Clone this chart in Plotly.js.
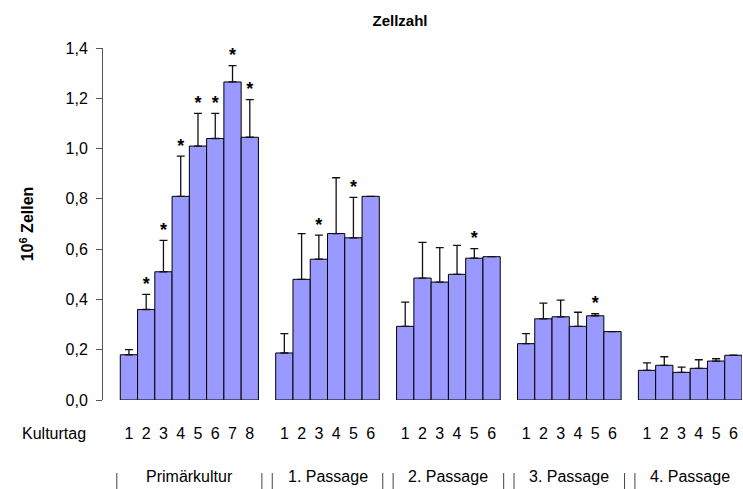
<!DOCTYPE html>
<html>
<head>
<meta charset="utf-8">
<script src="https://cdn.plot.ly/plotly-3.0.1.min.js"></script>
<style>html,body{margin:0;padding:0;background:#fff;}#chart{width:743px;height:489px;}</style>
</head>
<body>
<div id="chart"></div>
<script>
// ---- data ----
const groupNames = ['Primärkultur', '1. Passage', '2. Passage', '3. Passage', '4. Passage'];
const days = [
  ['1','2','3','4','5','6','7','8'],
  ['1','2','3','4','5','6'],
  ['1','2','3','4','5','6'],
  ['1','2','3','4','5','6'],
  ['1','2','3','4','5','6']
];
const meanPrimaer  = [0.18, 0.36, 0.51, 0.81, 1.01, 1.04, 1.265, 1.045];
const meanPassage1 = [0.187, 0.48, 0.56, 0.662, 0.645, 0.81];
const meanPassage2 = [0.293, 0.485, 0.469, 0.50, 0.564, 0.57];
const meanPassage3 = [0.224, 0.323, 0.331, 0.293, 0.335, 0.272];
const meanPassage4 = [0.118, 0.138, 0.11, 0.126, 0.155, 0.178];

const errPrimaer  = [0.02, 0.06, 0.125, 0.16, 0.13, 0.10, 0.065, 0.15];
const errPassage1 = [0.077, 0.182, 0.096, 0.222, 0.161, 0];
const errPassage2 = [0.096, 0.142, 0.137, 0.115, 0.038, 0];
const errPassage3 = [0.04, 0.062, 0.066, 0.056, 0.008, 0];
const errPassage4 = [0.03, 0.034, 0.021, 0.034, 0.009, 0];

const sigPrimaer  = [0, 1, 1, 1, 1, 1, 1, 1];
const sigPassage1 = [0, 0, 1, 0, 1, 0];
const sigPassage2 = [0, 0, 0, 0, 1, 0];
const sigPassage3 = [0, 0, 0, 0, 1, 0];
const sigPassage4 = [0, 0, 0, 0, 0, 0];

const yTickVals = [0, 0.2, 0.4, 0.6, 0.8, 1.0, 1.2, 1.4];

// ---- build traces ----
const FONT = 'Arial, Liberation Sans, sans-serif';
const means = [meanPrimaer, meanPassage1, meanPassage2, meanPassage3, meanPassage4];
const errs  = [errPrimaer, errPassage1, errPassage2, errPassage3, errPassage4];
const sigs  = [sigPrimaer, sigPassage1, sigPassage2, sigPassage3, sigPassage4];

let xs = [], ys = [], es = [], tickText = [];
let starX = [], starY = [];
let groupCenters = [], groupEdges = [];
let pos = 0;
for (let g = 0; g < means.length; g++) {
  const start = pos;
  for (let i = 0; i < means[g].length; i++) {
    xs.push(pos); ys.push(means[g][i]); es.push(errs[g][i]);
    tickText.push(days[g][i]);
    if (sigs[g][i]) { starX.push(pos); starY.push(means[g][i] + errs[g][i]); }
    pos++;
  }
  groupCenters.push((start + pos - 1) / 2);
  groupEdges.push([start - 0.5, pos - 0.5]);
  pos++; // empty slot between groups
}

const bars = {
  type: 'bar', x: xs, y: ys,
  marker: {color: '#9999FF', line: {color: '#000000', width: 1}},
  error_y: {type: 'data', array: es, arrayminus: es.map(() => 0), symmetric: false,
            visible: true, color: '#111111', thickness: 1.3, width: 4},
  hoverinfo: 'x+y', showlegend: false
};
const stars = {
  type: 'scatter', mode: 'text', x: starX, y: starY, text: starX.map(() => '<b>*</b>'),
  textposition: 'top center', textfont: {family: FONT, size: 18, color: '#000'},
  cliponaxis: false, showlegend: false, hoverinfo: 'skip'
};

// annotations & separators
const ann = [{
  text: 'Kulturtag', xref: 'paper', yref: 'paper', x: (20 - 103) / 639, y: (400 - 433) / 352,
  xanchor: 'left', yanchor: 'middle', showarrow: false,
  font: {family: FONT, size: 16, color: '#000'}
}];
groupNames.forEach((n, g) => ann.push({
  text: n, xref: 'x', yref: 'paper', x: groupCenters[g], y: (400 - 476) / 352,
  xanchor: 'center', yanchor: 'middle', showarrow: false,
  font: {family: FONT, size: 16, color: '#000'}
}));
const shapes = [];
groupEdges.forEach((e, g) => {
  const lines = [e[0] - 0.2];
  if (g < groupEdges.length - 1) lines.push(e[1] + 0.2);
  lines.forEach(xv => shapes.push({
    type: 'line', xref: 'x', yref: 'paper', x0: xv, x1: xv,
    y0: (400 - 473) / 352, y1: (400 - 492) / 352,
    line: {color: '#444', width: 1}
  }));
});

const layout = {
  width: 743, height: 489,
  margin: {l: 103, r: 1, t: 48, b: 89},
  paper_bgcolor: '#fff', plot_bgcolor: '#fff',
  separators: ',.',
  bargap: 0,
  showlegend: false,
  font: {family: FONT, size: 16, color: '#000'},
  title: {text: '<b>Zellzahl</b>', x: 400 / 743, xref: 'container', xanchor: 'center',
          y: 1 - 21 / 489, yref: 'container', yanchor: 'middle',
          font: {family: FONT, size: 15, color: '#000'}},
  xaxis: {
    range: [-1.5, 35.5], showline: false, showgrid: false, zeroline: false,
    tickmode: 'array', tickvals: xs, ticktext: tickText, ticks: '',
    ticklabelstandoff: 22, tickangle: 0,
    tickfont: {family: FONT, size: 16, color: '#000'}
  },
  yaxis: {
    range: [0, 1.4], showline: true, linecolor: '#555', linewidth: 1,
    showgrid: false, zeroline: false,
    tickmode: 'array', tickvals: yTickVals, tickformat: '.1f',
    ticks: 'outside', ticklen: 6, tickcolor: '#555', ticklabelstandoff: 5,
    tickfont: {family: FONT, size: 16, color: '#000'},
    title: {text: '<b>10<sup>6</sup> Zellen</b>', standoff: 27,
            font: {family: FONT, size: 16, color: '#000'}}
  },
  annotations: ann,
  shapes: shapes
};

Plotly.newPlot('chart', [bars, stars], layout, {displayModeBar: false, staticPlot: true});
</script>
</body>
</html>
